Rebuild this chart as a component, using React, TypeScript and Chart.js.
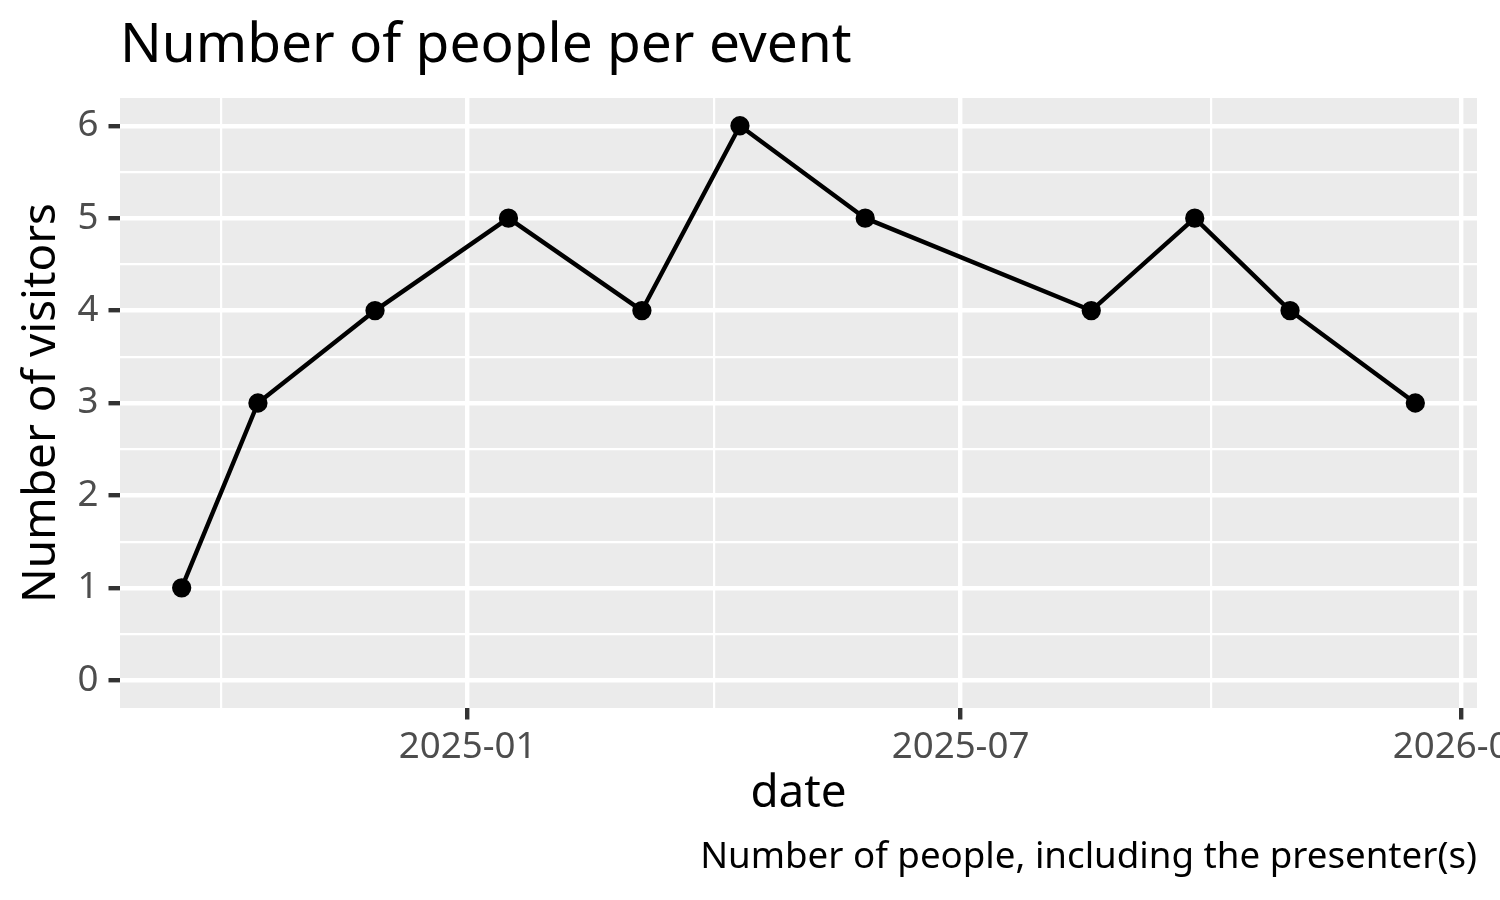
import React, { useEffect, useRef } from "react";
import { Chart, registerables } from "chart.js";

Chart.register(...registerables);

// ---- data ----
const eventDates = [
  "2024-09-18",
  "2024-10-16",
  "2024-11-28",
  "2025-01-16",
  "2025-03-06",
  "2025-04-11",
  "2025-05-27",
  "2025-08-18",
  "2025-09-25",
  "2025-10-30",
  "2025-12-15",
];
const visitors = [1, 3, 4, 5, 4, 6, 5, 4, 5, 4, 3];

const xMajorDates = ["2025-01-01", "2025-07-01", "2026-01-01"];
const xTickLabels = ["2025-01", "2025-07", "2026-01"];
const yMajorTicks = [0, 1, 2, 3, 4, 5, 6];
const yLimits = [0, 6];

const titleText = "Number of people per event";
const xTitleText = "date";
const yTitleText = "Number of visitors";
const captionText = "Number of people, including the presenter(s)";

// ---- styling ----
const FONT = '"Noto Sans", sans-serif';
const PANEL_BG = "#EBEBEB";
const TICK_TEXT = "#4D4D4D";
const TICK_MARK = "#333333";
const MAJOR_W = 4.4;
const MINOR_W = 2.2;

export default function App() {
  const canvasRef = useRef<HTMLCanvasElement | null>(null);

  useEffect(() => {
    const canvas = canvasRef.current;
    if (!canvas) return;

    const xs = eventDates.map((d) => Date.parse(d));
    const xMin0 = Math.min(...xs);
    const xMax0 = Math.max(...xs);
    const xSpan = xMax0 - xMin0;
    const xMin = xMin0 - 0.05 * xSpan;
    const xMax = xMax0 + 0.05 * xSpan;

    const xMajor = xMajorDates.map((d) => Date.parse(d));
    const step0 = xMajor[1] - xMajor[0];
    const extended = [xMajor[0] - step0, ...xMajor];
    const xMinor: number[] = [];
    for (let i = 0; i < extended.length - 1; i++) {
      xMinor.push((extended[i] + extended[i + 1]) / 2);
    }

    const ySpan = yLimits[1] - yLimits[0];
    const yMin = yLimits[0] - 0.05 * ySpan;
    const yMax = yLimits[1] + 0.05 * ySpan;
    const yMinor: number[] = [];
    for (let i = 0; i < yMajorTicks.length - 1; i++) {
      yMinor.push((yMajorTicks[i] + yMajorTicks[i + 1]) / 2);
    }

    const isXMajor = (v: number) => xMajor.some((m) => Math.abs(m - v) < 1);
    const isYMajor = (v: number) => yMajorTicks.some((m) => Math.abs(m - v) < 1e-9);

    const panelPlugin = {
      id: "panelBg",
      beforeDraw(chart: any) {
        const { ctx, chartArea } = chart;
        ctx.save();
        ctx.fillStyle = PANEL_BG;
        ctx.fillRect(
          chartArea.left,
          chartArea.top,
          chartArea.right - chartArea.left,
          chartArea.bottom - chartArea.top
        );
        ctx.restore();
      },
      afterDraw(chart: any) {
        const { ctx, chartArea } = chart;
        ctx.save();
        ctx.fillStyle = "#000000";
        ctx.textBaseline = "alphabetic";
        ctx.font = `55px ${FONT}`;
        ctx.textAlign = "left";
        ctx.fillText(titleText, chartArea.left, 62);
        ctx.font = `36.7px ${FONT}`;
        ctx.textAlign = "right";
        ctx.fillText(captionText, chartArea.right, 868);
        ctx.restore();
      },
    };

    const chart = new Chart(canvas, {
      type: "line",
      data: {
        datasets: [
          {
            data: xs.map((x, i) => ({ x, y: visitors[i] })),
            borderColor: "#000000",
            backgroundColor: "#000000",
            borderWidth: 4.4,
            borderJoinStyle: "round",
            tension: 0,
            pointRadius: 8.2,
            pointBorderWidth: 2.9,
            pointBackgroundColor: "#000000",
            pointBorderColor: "#000000",
            pointHoverRadius: 8.2,
            clip: false as any,
          },
        ],
      },
      plugins: [panelPlugin],
      options: {
        animation: false,
        responsive: false,
        devicePixelRatio: 1,
        events: [],
        layout: { padding: { left: 0, top: 98, right: 23, bottom: 0 } },
        plugins: {
          legend: { display: false },
          title: { display: false },
          tooltip: { enabled: false },
        },
        scales: {
          x: {
            type: "linear",
            min: xMin,
            max: xMax,
            border: { display: false },
            grid: {
              color: "#FFFFFF",
              lineWidth: (c: any) => (isXMajor(c.tick.value) ? MAJOR_W : MINOR_W),
              tickColor: (c: any) => (isXMajor(c.tick.value) ? TICK_MARK : "rgba(0,0,0,0)"),
              tickWidth: MAJOR_W,
              tickLength: 11.5,
              drawTicks: true,
            },
            ticks: {
              autoSkip: false,
              maxRotation: 0,
              minRotation: 0,
              padding: 6,
              color: TICK_TEXT,
              font: { family: FONT, size: 36.7 },
              callback: (v: any) => {
                const i = xMajor.findIndex((m) => Math.abs(m - v) < 1);
                return i >= 0 ? xTickLabels[i] : "";
              },
            },
            title: {
              display: true,
              text: xTitleText,
              color: "#000000",
              font: { family: FONT, size: 45.8 },
              padding: { top: 0, bottom: 79 },
            },
            afterBuildTicks: (scale: any) => {
              const vals = [...xMinor, ...xMajor]
                .filter((v) => v >= xMin && v <= xMax)
                .sort((a, b) => a - b);
              scale.ticks = vals.map((value) => ({ value }));
            },
            afterFit: (scale: any) => {
              scale.height = 192;
              scale.paddingLeft = 0;
              scale.paddingRight = 0;
            },
          },
          y: {
            type: "linear",
            min: yMin,
            max: yMax,
            border: { display: false },
            grid: {
              color: "#FFFFFF",
              lineWidth: (c: any) => (isYMajor(c.tick.value) ? MAJOR_W : MINOR_W),
              tickColor: (c: any) => (isYMajor(c.tick.value) ? TICK_MARK : "rgba(0,0,0,0)"),
              tickWidth: MAJOR_W,
              tickLength: 11.5,
              drawTicks: true,
            },
            ticks: {
              autoSkip: false,
              padding: 10,
              color: TICK_TEXT,
              font: { family: FONT, size: 36.7 },
              callback: (v: any) => (isYMajor(Number(v)) ? String(Math.round(Number(v))) : ""),
            },
            title: {
              display: true,
              text: yTitleText,
              color: "#000000",
              font: { family: FONT, size: 45.8 },
              padding: { top: 14, bottom: 0 },
            },
            afterBuildTicks: (scale: any) => {
              const vals = [...yMinor, ...yMajorTicks].sort((a, b) => a - b);
              scale.ticks = vals.map((value) => ({ value }));
            },
            afterFit: (scale: any) => {
              scale.width = 120;
              scale.paddingTop = 0;
              scale.paddingBottom = 0;
            },
          },
        },
      } as any,
    });

    return () => {
      chart.destroy();
    };
  }, []);

  return (
    <div style={{ position: "absolute", left: 0, top: 0, width: 1500, height: 900, background: "#FFFFFF" }}>
      <canvas ref={canvasRef} width={1500} height={900} style={{ display: "block", width: 1500, height: 900 }} />
    </div>
  );
}
